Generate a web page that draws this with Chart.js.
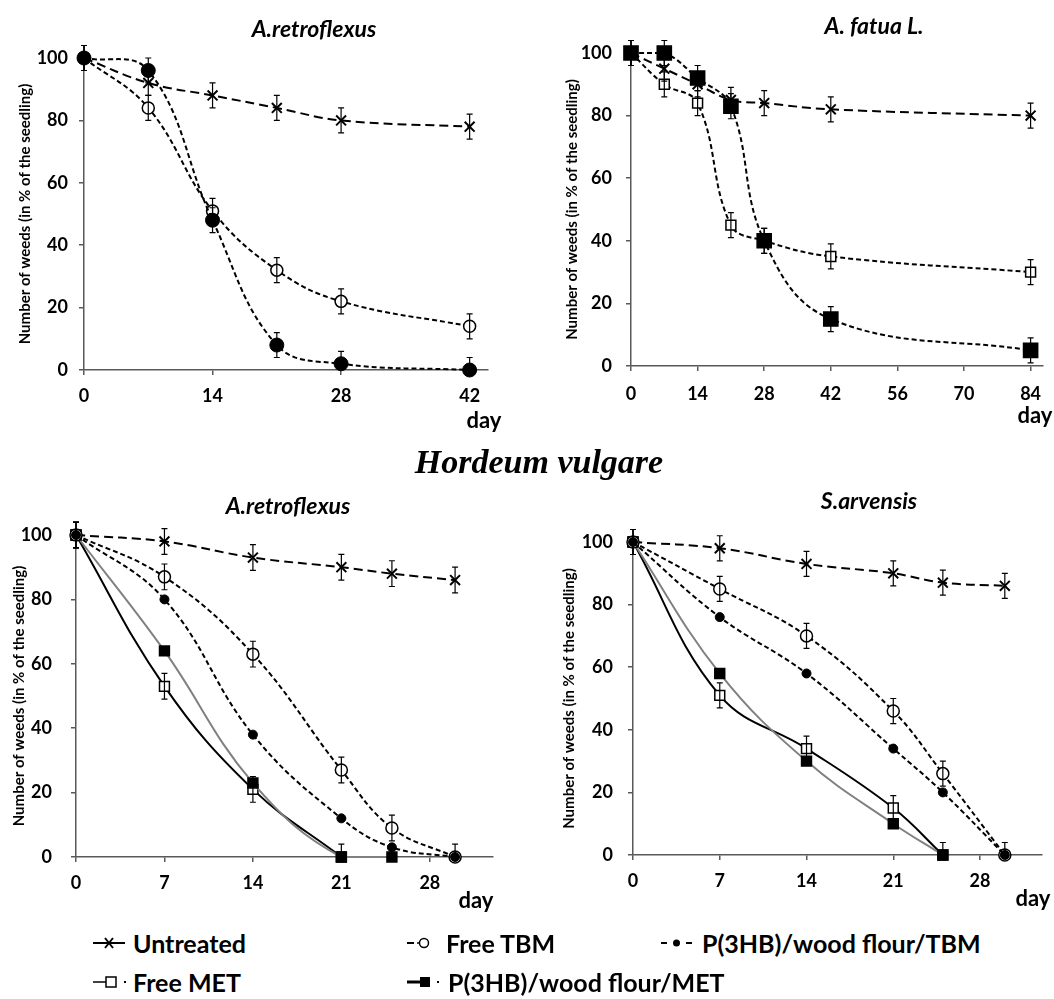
<!DOCTYPE html>
<html>
<head>
<meta charset="utf-8">
<script src="https://cdn.jsdelivr.net/npm/chart.js@4.4.1/dist/chart.umd.min.js"></script>
<style>
    body { margin: 0; background: #fff; }
    #page { position: relative; width: 1054px; height: 999px; background: #fff; overflow: hidden; font-family: Lato, sans-serif; color: #000; }
    canvas { position: absolute; }
    .ttl { position: absolute; transform: translate(-50%, -50%); font-weight: bold; font-style: italic; font-size: 23px; white-space: nowrap; }
    .day { position: absolute; transform: translate(-50%, -50%); font-weight: bold; font-size: 22px; }
    #crop { position: absolute; left: 539px; top: 462px; transform: translate(-50%, -50%); font-family: 'Liberation Serif', serif; font-size: 34px; font-weight: bold; font-style: italic; white-space: nowrap; }
    .lg { position: absolute; transform: translateY(-50%); font-weight: bold; font-size: 25px; white-space: nowrap; }
</style>
</head>
<body>
<div id="page">
    <canvas id="c1" width="500" height="420" style="left:0;top:0"></canvas>
    <canvas id="c2" width="524" height="416" style="left:530px;top:0"></canvas>
    <canvas id="c3" width="505" height="427" style="left:0;top:480px"></canvas>
    <canvas id="c4" width="524" height="425" style="left:530px;top:480px"></canvas>

    <div class="ttl" style="left:314px;top:28px">A.retroflexus</div>
    <div class="ttl" style="left:874px;top:25px">A. fatua L.</div>
    <div class="ttl" style="left:288px;top:505px">A.retroflexus</div>
    <div class="ttl" style="left:869px;top:500px">S.arvensis</div>

    <div class="day" style="left:484px;top:419px">day</div>
    <div class="day" style="left:1035px;top:414px">day</div>
    <div class="day" style="left:476px;top:899px">day</div>
    <div class="day" style="left:1033px;top:897px">day</div>

    <div id="crop">Hordeum vulgare</div>
</div>
<script>
// ---- data ----
// top left: A.retroflexus
const daysA = [0, 7, 14, 21, 28, 42];
const a1Untreated = [100, 92, 88, 84, 80, 78];
const a1FreeTBM = [100, 84, 51, 32, 22, 14];
const a1PhbTBM = [100, 96, 48, 8, 2, 0];
const a1Err = [4, 4, 4, 4, 4, 4];

// top right: A. fatua L.
const daysB = [0, 7, 14, 21, 28, 42, 84];
const b2Untreated = [100, 95, 90, 85, 84, 82, 80];
const b2FreeMET = [100, 90, 84, 45, 40, 35, 30];
const b2PhbMET = [100, 100, 92, 83, 40, 15, 5];
const b2Err = [4, 4, 4, 4, 4, 4, 4];

// bottom (Hordeum vulgare)
const daysC = [0, 7, 14, 21, 25, 30];
const c3Untreated = [100, 98, 93, 90, 88, 86];
const c3FreeTBM = [100, 87, 63, 27, 9, 0];
const c3PhbTBM = [100, 80, 38, 12, 3, 0];
const c3FreeMET = [100, 53, 21, 0];
const c3PhbMET = [100, 64, 23, 0, 0];
const c3Err = [4, 4, 4, 4, 4, 4];

const d4Untreated = [100, 98, 93, 90, 87, 86];
const d4FreeTBM = [100, 85, 70, 46, 26, 0];
const d4PhbTBM = [100, 76, 58, 34, 20, 0];
const d4FreeMET = [100, 51, 34, 15, 0];
const d4PhbMET = [100, 58, 30, 10, 0];
const d4Err = [4, 4, 4, 4, 4, 4];

// tick labels
const xTicksA = [0, 14, 28, 42];
const xTicksB = [0, 14, 28, 42, 56, 70, 84];
const xTicksC = [0, 7, 14, 21, 28];
const yTicks = [0, 20, 40, 60, 80, 100];
const yLabel = 'Number of weeds (in % of the seedling)';

const AXIS = '#595959';
const GRAY = '#808080';

function pts(days, vals) {
    return vals.map((v, i) => ({ x: days[i], y: v }));
}

// error bars drawn through the y scale
const errorBars = {
    id: 'errorBars',
    afterDatasetsDraw(chart) {
        const { ctx } = chart;
        const ys = chart.scales.y;
        chart.data.datasets.forEach((ds, i) => {
            if (!ds.errors) return;
            const meta = chart.getDatasetMeta(i);
            ctx.save();
            ctx.strokeStyle = '#000';
            ctx.lineWidth = 1.2;
            meta.data.forEach((pt, j) => {
                const v = ds.data[j].y, e = ds.errors[j];
                const top = ys.getPixelForValue(v + e);
                const lowClamped = v - e < ys.min;
                const bot = ys.getPixelForValue(Math.max(v - e, ys.min));
                ctx.beginPath();
                ctx.moveTo(pt.x, top); ctx.lineTo(pt.x, bot);
                ctx.moveTo(pt.x - 3, top); ctx.lineTo(pt.x + 3, top);
                if (!lowClamped) { ctx.moveTo(pt.x - 3, bot); ctx.lineTo(pt.x + 3, bot); }
                ctx.stroke();
            });
            ctx.restore();
        });
    }
};

const tickFont = { family: 'Lato', size: 18, weight: 'bold' };

function untreated(days, vals, err) {
    return { data: pts(days, vals), borderColor: '#000', borderWidth: 2, borderDash: [9, 5], tension: 0.4, clip: false,
        pointStyle: 'crossRot', pointRadius: 7, pointBorderWidth: 2, pointBorderColor: '#000', errors: err };
}
function openCircle(days, vals, err) {
    return { data: pts(days, vals), borderColor: '#000', borderWidth: 2, borderDash: [5, 3], tension: 0.4, clip: false,
        pointStyle: 'circle', pointRadius: 6, pointBorderWidth: 1.5, pointBorderColor: '#000', pointBackgroundColor: '#fff', errors: err };
}
function filledCircle(days, vals, r, err) {
    return { data: pts(days, vals), borderColor: '#000', borderWidth: 2, borderDash: [5, 3], tension: 0.4, clip: false,
        pointStyle: 'circle', pointRadius: r, pointBorderWidth: 1, pointBorderColor: '#000', pointBackgroundColor: '#000', errors: err };
}
function square(days, vals, opts) {
    return Object.assign({ data: pts(days, vals), borderColor: '#000', borderWidth: 2, tension: 0.4, clip: false,
        pointStyle: 'rect', pointRadius: 7, pointBorderWidth: 1.5, pointBorderColor: '#000', pointBackgroundColor: '#000' }, opts);
}

function makePanel(id, cfg) {
    new Chart(document.getElementById(id), {
        type: 'line',
        data: { datasets: cfg.datasets },
        options: {
            responsive: false,
            animation: false,
            events: [],
            elements: { line: { capBezierPoints: cfg.cap } },
            layout: { padding: { top: cfg.top, right: cfg.right, left: 0, bottom: 0 } },
            plugins: { legend: { display: false }, tooltip: { enabled: false } },
            scales: {
                x: {
                    type: 'linear', min: 0, max: cfg.xMax,
                    ticks: { font: tickFont, color: '#000', padding: cfg.xPad, maxRotation: 0 },
                    afterBuildTicks: s => { s.ticks = cfg.xTicks.map(v => ({ value: v })); },
                    afterFit: s => { s.height = 50; },
                    grid: { drawOnChartArea: false, drawTicks: true, tickLength: 5, color: AXIS, lineWidth: 1.5 },
                    border: { color: AXIS, width: 1.5 }
                },
                y: {
                    min: 0, max: 100,
                    ticks: { font: tickFont, color: '#000', padding: cfg.yPad },
                    afterBuildTicks: s => { s.ticks = yTicks.map(v => ({ value: v })); },
                    afterFit: s => { s.width = cfg.yWidth; },
                    grid: { drawOnChartArea: false, drawTicks: true, tickLength: 5, color: AXIS, lineWidth: 1.5 },
                    border: { color: AXIS, width: 1.5 },
                    title: { display: true, text: yLabel, color: '#000',
                        font: { family: 'Lato', size: 15, weight: 'bold' }, padding: { top: cfg.titlePad, bottom: 0 } }
                }
            }
        },
        plugins: [errorBars]
    });
}

makePanel('c1', {
    top: 58, right: 12, yWidth: 84, yPad: 11, xPad: 10, titlePad: 16, xMax: 44, xTicks: xTicksA, cap: false,
    datasets: [
        filledCircle(daysA, a1PhbTBM, 7, a1Err),
        openCircle(daysA, a1FreeTBM, a1Err),
        untreated(daysA, a1Untreated, a1Err)
    ]
});

makePanel('c2', {
    top: 53, right: 8, yWidth: 101, yPad: 14, xPad: 12, titlePad: 33, xMax: 86.5, xTicks: xTicksB, cap: true,
    datasets: [
        square(daysB, b2PhbMET, { borderDash: [5, 3], pointRadius: 10, errors: b2Err }),
        square(daysB, b2FreeMET, { borderDash: [5, 3], pointBackgroundColor: '#fff', errors: b2Err }),
        untreated(daysB, b2Untreated, b2Err)
    ]
});

makePanel('c3', {
    top: 55, right: 12, yWidth: 76, yPad: 19, xPad: 10, titlePad: 10, xMax: 33, xTicks: xTicksC, cap: true,
    datasets: [
        filledCircle(daysC, c3PhbTBM, 4.5),
        openCircle(daysC, c3FreeTBM, c3Err),
        square(daysC, c3PhbMET, { borderColor: GRAY }),
        square(daysC, c3FreeMET, { pointBackgroundColor: '#fff', errors: c3Err }),
        untreated(daysC, c3Untreated, c3Err)
    ]
});

makePanel('c4', {
    top: 62, right: 12, yWidth: 103, yPad: 15, xPad: 10, titlePad: 30, xMax: 33, xTicks: xTicksC, cap: true,
    datasets: [
        filledCircle(daysC, d4PhbTBM, 4.5),
        openCircle(daysC, d4FreeTBM, d4Err),
        square(daysC, d4PhbMET, { borderColor: GRAY }),
        square(daysC, d4FreeMET, { pointBackgroundColor: '#fff', errors: d4Err }),
        untreated(daysC, d4Untreated, d4Err)
    ]
});

// ---- legend (html text + small drawn keys) ----
const legendItems = [
    { text: 'Untreated', key: 'cross', kx: 92, tx: 133, y: 943 },
    { text: 'Free TBM', key: 'ocircle', kx: 406, tx: 446, y: 943 },
    { text: 'P(3HB)/wood flour/TBM', key: 'dot', kx: 660, tx: 702, y: 943 },
    { text: 'Free MET', key: 'osquare', kx: 92, tx: 133, y: 982 },
    { text: 'P(3HB)/wood flour/MET', key: 'fsquare', kx: 406, tx: 448, y: 982 }
];

const page = document.getElementById('page');
legendItems.forEach(item => {
    const c = document.createElement('canvas');
    c.width = 40; c.height = 24;
    c.style.left = item.kx + 'px';
    c.style.top = (item.y - 12) + 'px';
    page.appendChild(c);
    const g = c.getContext('2d');
    g.strokeStyle = '#000'; g.fillStyle = '#000'; g.lineWidth = 2;
    const m = 12;
    if (item.key === 'cross') {
        g.beginPath(); g.moveTo(1, m); g.lineTo(33, m); g.stroke();
        g.beginPath(); g.moveTo(13, m - 5); g.lineTo(21, m + 5); g.moveTo(21, m - 5); g.lineTo(13, m + 5); g.stroke();
    } else if (item.key === 'ocircle') {
        g.beginPath(); g.moveTo(1, m); g.lineTo(8, m); g.stroke();
        g.lineWidth = 1.5;
        g.beginPath(); g.moveTo(11, m); g.lineTo(22, m); g.stroke();
        g.beginPath(); g.arc(18, m, 4.5, 0, Math.PI * 2); g.fillStyle = '#fff'; g.fill(); g.stroke();
    } else if (item.key === 'dot') {
        g.beginPath(); g.moveTo(1, m); g.lineTo(7, m); g.moveTo(26, m); g.lineTo(32, m); g.stroke();
        g.beginPath(); g.arc(16.5, m, 3.5, 0, Math.PI * 2); g.fill();
    } else if (item.key === 'osquare') {
        g.lineWidth = 1.5;
        g.beginPath(); g.moveTo(1, m); g.lineTo(18, m); g.stroke();
        g.fillStyle = '#fff'; g.fillRect(14, m - 5, 10, 10); g.strokeRect(14, m - 5, 10, 10);
        g.fillStyle = '#000'; g.fillRect(32, m - 1, 2, 2);
    } else if (item.key === 'fsquare') {
        g.lineWidth = 3;
        g.beginPath(); g.moveTo(1, m); g.lineTo(18, m); g.stroke();
        g.fillRect(14, m - 5, 10, 10);
        g.fillRect(31, m - 1, 2, 2);
    }
    const t = document.createElement('div');
    t.className = 'lg';
    t.style.left = item.tx + 'px';
    t.style.top = item.y + 'px';
    t.textContent = item.text;
    page.appendChild(t);
});
</script>
</body>
</html>
